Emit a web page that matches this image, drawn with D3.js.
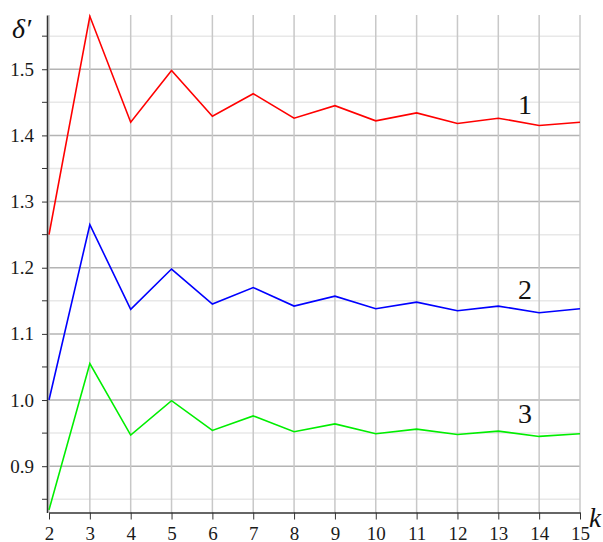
<!DOCTYPE html>
<html>
<head>
<meta charset="utf-8">
<script src="https://cdn.jsdelivr.net/npm/d3@7"></script>
<style>
  body { margin: 0; background: #fff; }
  svg text { font-family: "Liberation Serif", "Times New Roman", serif; }
</style>
</head>
<body>
<div id="chart"></div>
<script>
const kValues = [2, 3, 4, 5, 6, 7, 8, 9, 10, 11, 12, 13, 14, 15];
const curve1 = [1.25, 1.58, 1.42, 1.498, 1.429, 1.463, 1.426, 1.445, 1.422, 1.434, 1.418, 1.426, 1.415, 1.420];
const curve2 = [1.0, 1.265, 1.137, 1.198, 1.145, 1.170, 1.142, 1.157, 1.138, 1.148, 1.135, 1.142, 1.132, 1.138];
const curve3 = [0.834, 1.055, 0.947, 0.999, 0.954, 0.976, 0.952, 0.964, 0.949, 0.956, 0.948, 0.953, 0.945, 0.949];
const curveNames = ['1', '2', '3'];
const yMajor = [0.9, 1.0, 1.1, 1.2, 1.3, 1.4, 1.5];
const yMinor = [0.85, 0.95, 1.05, 1.15, 1.25, 1.35, 1.45, 1.55];

const width = 603;
const height = 542;

const svg = d3.select('#chart')
	.append('svg')
	.attr('width', width)
	.attr('height', height);

const x = d3.scaleLinear().domain([2, 15]).range([49, 580]);
const y = d3.scaleLinear().domain([0.83, 1.582]).range([512.5, 15]);

// grid
const grid = svg.append('g');
grid.selectAll('line.minor')
	.data(yMinor)
	.join('line')
	.attr('x1', x(2)).attr('x2', x(15))
	.attr('y1', d => y(d)).attr('y2', d => y(d))
	.attr('stroke', '#e8e8e8')
	.attr('stroke-width', 1.5);
grid.selectAll('line.major')
	.data(yMajor)
	.join('line')
	.attr('x1', x(2)).attr('x2', x(15))
	.attr('y1', d => y(d)).attr('y2', d => y(d))
	.attr('stroke', '#b4b4b4')
	.attr('stroke-width', 1.5);
grid.selectAll('line.vert')
	.data(kValues)
	.join('line')
	.attr('x1', d => x(d)).attr('x2', d => x(d))
	.attr('y1', y.range()[1]).attr('y2', y.range()[0])
	.attr('stroke', '#c8c8c8')
	.attr('stroke-width', 1.5);

// lines
const line = d3.line()
	.x((d, i) => x(kValues[i]))
	.y(d => y(d));

const series = [
	{ name: curveNames[0], values: curve1, color: '#ff0000', lx: 525, ly: 114 },
	{ name: curveNames[1], values: curve2, color: '#0000ff', lx: 525, ly: 299 },
	{ name: curveNames[2], values: curve3, color: '#00ee00', lx: 525, ly: 423 }
];

svg.selectAll('path.curve')
	.data(series)
	.join('path')
	.attr('class', 'curve')
	.attr('d', d => line(d.values))
	.attr('fill', 'none')
	.attr('stroke', d => d.color)
	.attr('stroke-width', 1.6);

svg.selectAll('text.curve-label')
	.data(series)
	.join('text')
	.attr('class', 'curve-label')
	.attr('x', d => d.lx)
	.attr('y', d => d.ly)
	.attr('text-anchor', 'middle')
	.style('font-size', '28px')
	.attr('fill', '#111')
	.text(d => d.name);

// axes
const xAxis = svg.append('g')
	.attr('transform', `translate(0,${y.range()[0]})`)
	.call(d3.axisBottom(x).tickValues(kValues).tickFormat(d3.format('d')).tickSize(7).tickSizeOuter(0));
xAxis.selectAll('text')
	.attr('dy', null)
	.attr('y', 27)
	.style('font-size', '19px')
	.attr('fill', '#1a1a1a');

const yAxis = svg.append('g')
	.attr('transform', 'translate(47,0)')
	.call(d3.axisLeft(y).tickValues(yMajor).tickFormat(d3.format('.1f')).tickSize(5).tickSizeOuter(0));
yAxis.selectAll('text')
	.attr('x', -13)
	.attr('dy', '0.32em')
	.style('font-size', '19px')
	.attr('fill', '#1a1a1a');

yAxis.selectAll('line.minor-tick')
	.data(yMinor)
	.join('line')
	.attr('x1', -5).attr('x2', 0)
	.attr('y1', d => y(d)).attr('y2', d => y(d))
	.attr('stroke', '#333');

[xAxis, yAxis].forEach(a => {
	a.select('.domain').attr('stroke', '#333').attr('stroke-width', 1.5);
	a.selectAll('.tick line').attr('stroke', '#333');
});

// axis titles
svg.append('text')
	.attr('x', 12)
	.attr('y', 38)
	.style('font-size', '28px')
	.style('font-style', 'italic')
	.attr('fill', '#111')
	.text('δ′');

svg.append('text')
	.attr('x', 589)
	.attr('y', 527)
	.style('font-size', '27px')
	.style('font-style', 'italic')
	.attr('fill', '#111')
	.text('k');
</script>
</body>
</html>
